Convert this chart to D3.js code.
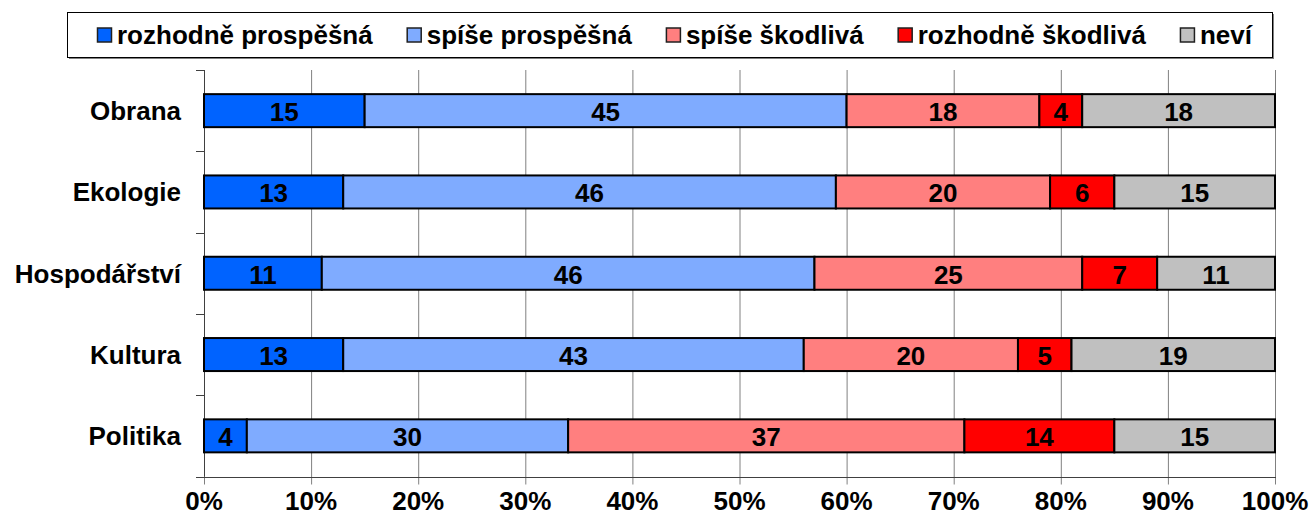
<!DOCTYPE html>
<html>
<head>
<meta charset="utf-8">
<script src="https://cdn.jsdelivr.net/npm/d3@7"></script>
<style>
  body { margin: 0; background: #fff; }
  svg { display: block; font-family: "Liberation Sans", Arial, sans-serif; font-weight: bold; }
</style>
</head>
<body>
<svg id="chart" width="1311" height="518"></svg>
<script>
const width = 1311;
const height = 518;

const categories = ["Obrana", "Ekologie", "Hospodářství", "Kultura", "Politika"];
const seriesNames = ["rozhodně prospěšná", "spíše prospěšná", "spíše škodlivá", "rozhodně škodlivá", "neví"];
const seriesColors = ["#0063ff", "#7fabff", "#ff7f7f", "#ff0000", "#c0c0c0"];

// values per category, in series order
const rozhodneProspesna = [15, 13, 11, 13, 4];
const spiseProspesna = [45, 46, 46, 43, 30];
const spiseSkodliva = [18, 20, 25, 20, 37];
const rozhodneSkodliva = [4, 6, 7, 5, 14];
const nevi = [18, 15, 11, 19, 15];

const xTicks = [0, 10, 20, 30, 40, 50, 60, 70, 80, 90, 100];

const seriesValues = [rozhodneProspesna, spiseProspesna, spiseSkodliva, rozhodneSkodliva, nevi];

const plotLeft = 204, plotRight = 1275, plotTop = 70, plotBottom = 476.5;
const gridColor = "#808080";

const svg = d3.select("#chart");

const x = d3.scaleLinear().domain([0, 100]).range([plotLeft, plotRight]);
const y = d3.scaleBand().domain(categories).range([plotTop, plotBottom]).paddingInner(0.594).paddingOuter(0.297);

// gridlines
svg.append("g")
    .selectAll("line")
    .data(xTicks)
    .join("line")
    .attr("x1", (d) => x(d) + 0.5)
    .attr("x2", (d) => x(d) + 0.5)
    .attr("y1", plotTop)
    .attr("y2", plotBottom + 8)
    .attr("stroke", gridColor)
    .attr("stroke-width", 1);

// y axis line + ticks at band boundaries
svg.append("line")
    .attr("x1", plotLeft + 0.5).attr("x2", plotLeft + 0.5)
    .attr("y1", plotTop).attr("y2", plotBottom)
    .attr("stroke", "#404040");

const boundaries = categories.map((c) => y(c) - y.step() * y.paddingInner() / 2);
boundaries.push(plotBottom);
svg.append("g")
    .selectAll("line")
    .data(boundaries)
    .join("line")
    .attr("x1", plotLeft - 8)
    .attr("x2", plotLeft)
    .attr("y1", (d) => Math.round(d) + 0.5)
    .attr("y2", (d) => Math.round(d) + 0.5)
    .attr("stroke", "#404040");

// x axis line
svg.append("line")
    .attr("x1", plotLeft).attr("x2", plotRight + 1)
    .attr("y1", Math.round(plotBottom) + 0.5).attr("y2", Math.round(plotBottom) + 0.5)
    .attr("stroke", "#404040");

// stack
const rows = categories.map((c, i) => {
    let acc = 0;
    return seriesValues.map((vals, s) => {
        const seg = { cat: c, s: s, v: vals[i], x0: acc, x1: acc + vals[i] };
        acc += vals[i];
        return seg;
    });
});

const segs = rows.flat();

svg.append("g")
    .selectAll("rect")
    .data(segs)
    .join("rect")
    .attr("x", (d) => x(d.x0))
    .attr("y", (d) => y(d.cat))
    .attr("width", (d) => x(d.x1) - x(d.x0))
    .attr("height", y.bandwidth())
    .attr("fill", (d) => seriesColors[d.s])
    .attr("stroke", "#000")
    .attr("stroke-width", 2);

svg.append("g")
    .selectAll("text")
    .data(segs)
    .join("text")
    .attr("x", (d) => (x(d.x0) + x(d.x1)) / 2)
    .attr("y", (d) => y(d.cat) + y.bandwidth() / 2 + 1)
    .attr("dy", "0.36em")
    .attr("text-anchor", "middle")
    .style("font-size", "26px")
    .attr("fill", "#000")
    .text((d) => d.v);

// category labels
svg.append("g")
    .selectAll("text")
    .data(categories)
    .join("text")
    .attr("x", 181)
    .attr("y", (d) => y(d) + y.bandwidth() / 2)
    .attr("dy", "0.36em")
    .attr("text-anchor", "end")
    .style("font-size", "26px")
    .text((d) => d);

// x tick labels
svg.append("g")
    .selectAll("text")
    .data(xTicks)
    .join("text")
    .attr("x", (d) => x(d))
    .attr("y", 501)
    .attr("dy", "0.36em")
    .attr("text-anchor", "middle")
    .style("font-size", "26px")
    .text((d) => d + "%");

// legend
const legendBox = { x: 67, y: 12, w: 1205, h: 45 };
svg.append("rect")
    .attr("x", legendBox.x + 2).attr("y", legendBox.y + 2)
    .attr("width", legendBox.w).attr("height", legendBox.h)
    .attr("fill", "#808080");
svg.append("rect")
    .attr("x", legendBox.x + 0.5).attr("y", legendBox.y + 0.5)
    .attr("width", legendBox.w).attr("height", legendBox.h)
    .attr("fill", "#fff")
    .attr("stroke", "#000");

const legend = svg.append("g");
const items = legend.selectAll("g")
    .data(seriesNames)
    .join("g");
items.append("rect")
    .attr("x", 0.5)
    .attr("width", 14).attr("height", 14)
    .attr("y", 28)
    .attr("fill", (d, i) => seriesColors[i])
    .attr("stroke", "#202020")
    .attr("stroke-width", 1.5);
items.append("text")
    .attr("x", 20)
    .attr("y", 35)
    .attr("dy", "0.36em")
    .style("font-size", "26px")
    .text((d) => d);

const gap = 34;
const widths = [];
items.each(function () {
    widths.push(20 + d3.select(this).select("text").node().getComputedTextLength());
});
let cx = 97;
items.attr("transform", (d, i) => {
    const t = "translate(" + cx + ",0)";
    cx += widths[i] + gap;
    return t;
});
</script>
</body>
</html>
